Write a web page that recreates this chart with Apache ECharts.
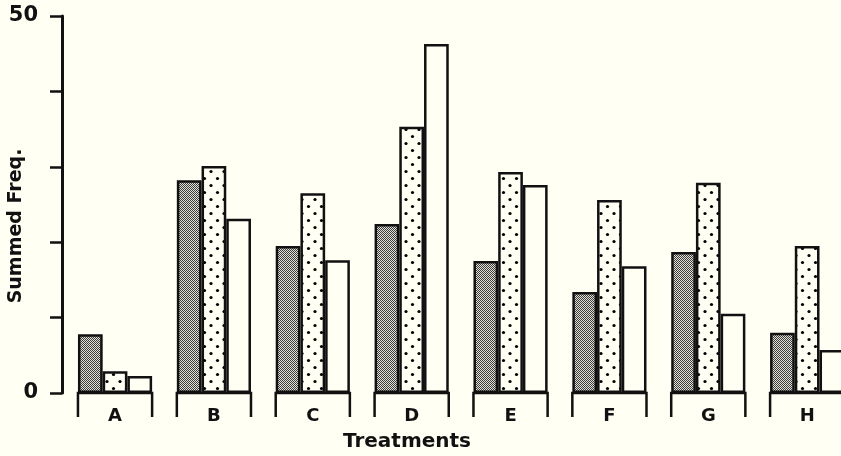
<!DOCTYPE html>
<html>
<head>
<meta charset="utf-8">
<script src="https://cdn.jsdelivr.net/npm/echarts@6/dist/echarts.min.js"></script>
<style>
  html, body { margin: 0; padding: 0; background: #fffff4; }
  #chart { width: 841px; height: 456px; }
</style>
</head>
<body>
<div id="chart"></div>
<script>
// Treatments on the x axis, three response classes per treatment
const categories = ['A', 'B', 'C', 'D', 'E', 'F', 'G', 'H'];
const shadedValues = [7.8, 28.2, 19.5, 22.4, 17.5, 13.4, 18.7, 8.0];
const dottedValues = [2.9, 30.1, 26.5, 35.3, 29.3, 25.6, 27.9, 19.5];
const openValues   = [2.25, 23.1, 17.6, 46.3, 27.6, 16.8, 10.5, 5.7];
const yTickLabels  = [0, 50];

const INK = '#111';
const PAPER = '#fffff4';
const GAP = 0.25; // barCategoryGap as a fraction

// fine checker stipple
function stipple() {
  const c = document.createElement('canvas');
  c.width = 2; c.height = 2;
  const g = c.getContext('2d');
  g.fillStyle = '#e2e2d8'; g.fillRect(0, 0, 2, 2);
  g.fillStyle = '#3c3c3c'; g.fillRect(0, 0, 1, 1); g.fillRect(1, 1, 1, 1);
  return c;
}
// staggered dot screen
function dots() {
  const c = document.createElement('canvas');
  c.width = 13; c.height = 14;
  const g = c.getContext('2d');
  g.fillStyle = PAPER; g.fillRect(0, 0, 13, 14);
  g.fillStyle = '#000';
  [[3, 3.5], [9.5, 10.5]].forEach(([x, y]) => {
    g.beginPath(); g.arc(x, y, 1.6, 0, Math.PI * 2); g.fill();
  });
  return c;
}

const barBase = {
  type: 'bar',
  barGap: '0%',
  barCategoryGap: (GAP * 100) + '%',
  itemStyle: { borderColor: INK, borderWidth: 2.5 }
};

const chart = echarts.init(document.getElementById('chart'));
chart.setOption({
  backgroundColor: PAPER,
  animation: false,
  // the last group runs past the right edge of the page
  grid: {
    left: 65.6, width: 791, top: 16, height: 377,
    containLabel: false, outerBoundsMode: 'none'
  },
  xAxis: {
    type: 'category',
    data: categories,
    axisLine: { show: false },
    axisTick: { show: false },
    axisLabel: {
      margin: 14,
      color: INK,
      fontFamily: 'DejaVu Sans',
      fontWeight: 'bold',
      fontSize: 18
    }
  },
  yAxis: {
    type: 'value',
    min: 0, max: 50, interval: 10,
    offset: 3.6,
    splitLine: { show: false },
    axisLine: { show: true, lineStyle: { color: INK, width: 3 } },
    axisTick: { show: true, length: 12, lineStyle: { color: INK, width: 2.5 } },
    axisLabel: {
      margin: 24,
      color: INK,
      fontFamily: 'DejaVu Sans',
      fontWeight: 'bold',
      fontSize: 21,
      formatter: v => (yTickLabels.indexOf(v) >= 0 ? String(v) : '')
    }
  },
  graphic: [
    {
      type: 'text', x: 16, y: 226, rotation: Math.PI / 2,
      style: {
        text: 'Summed Freq.', fill: INK, align: 'center', verticalAlign: 'middle',
        font: 'bold 19px "DejaVu Sans"'
      }
    },
    {
      type: 'text', x: 407, y: 442,
      style: {
        text: 'Treatments', fill: INK, align: 'center', verticalAlign: 'middle',
        font: 'bold 20px "DejaVu Sans"'
      }
    }
  ],
  series: [
    Object.assign({}, barBase, {
      name: 'shaded', data: shadedValues,
      itemStyle: Object.assign({}, barBase.itemStyle, { color: { image: stipple(), repeat: 'repeat' } })
    }),
    Object.assign({}, barBase, {
      name: 'dotted', data: dottedValues,
      itemStyle: Object.assign({}, barBase.itemStyle, { color: { image: dots(), repeat: 'repeat' } })
    }),
    Object.assign({}, barBase, {
      name: 'open', data: openValues,
      itemStyle: Object.assign({}, barBase.itemStyle, { color: PAPER })
    }),
    {
      // bracket under each treatment group
      type: 'custom',
      z: 5,
      data: categories.map((c, i) => [i]),
      encode: { x: 0 },
      renderItem: (params, api) => {
        const p = api.coord([api.value(0), 0]);
        const band = api.size([1, 0])[0];
        const half = band * (1 - GAP) / 2;
        const drop = 24;
        return {
          type: 'polyline',
          shape: {
            points: [
              [p[0] - half, p[1] + drop], [p[0] - half, p[1]],
              [p[0] + half, p[1]], [p[0] + half, p[1] + drop]
            ]
          },
          style: { stroke: INK, lineWidth: 2.5, fill: null }
        };
      }
    }
  ]
});
</script>
</body>
</html>
